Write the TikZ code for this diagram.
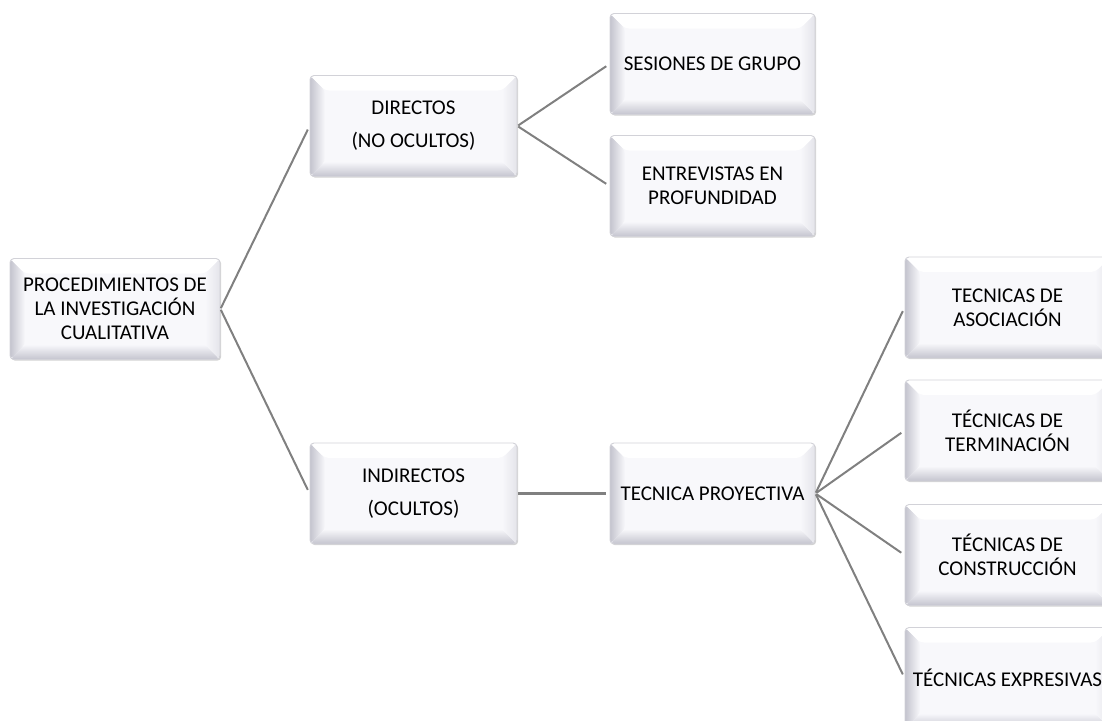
\documentclass[tikz,border=0pt]{standalone}
\usepackage{fontspec}
\setmainfont{Carlito}
\usetikzlibrary{calc,shadows}

\definecolor{boxface}{HTML}{F8F8FB}
\definecolor{boxedge}{HTML}{D2D2D8}
\definecolor{bevdark}{HTML}{C4C4CE}
\definecolor{bevlight}{HTML}{E4E4EA}
\definecolor{linkgray}{HTML}{808080}

\tikzset{
  bevbox/.style={
    draw=boxedge, line width=0.9pt, rounded corners=4pt, fill=boxface,
    minimum width=#1, minimum height=101pt, inner sep=0pt, align=center,
    font=\fontsize{21}{24}\selectfont,
    drop shadow={shadow xshift=1.2pt, shadow yshift=-1.2pt, opacity=0.35, fill=gray},
    path picture={
      \path (path picture bounding box.north west) coordinate (pnw)
            (path picture bounding box.north east) coordinate (pne)
            (path picture bounding box.south west) coordinate (psw)
            (path picture bounding box.south east) coordinate (pse);
      % left bevel
      \shade[left color=bevdark, right color=boxface]
        (pnw) -- ($(pnw)+(15pt,-15pt)$) -- ($(psw)+(15pt,15pt)$) -- (psw) -- cycle;
      % bottom bevel
      \shade[bottom color=bevdark, top color=boxface]
        (psw) -- ($(psw)+(15pt,15pt)$) -- ($(pse)+(-15pt,15pt)$) -- (pse) -- cycle;
      % right bevel
      \shade[right color=bevlight, left color=boxface]
        (pse) -- ($(pse)+(-15pt,15pt)$) -- ($(pne)+(-15pt,-15pt)$) -- (pne) -- cycle;
      % top bevel
      \fill[white]
        (pnw) -- ($(pnw)+(15pt,-15pt)$) -- ($(pne)+(-15pt,-15pt)$) -- (pne) -- cycle;
    }
  },
  bevbox/.default=205pt,
  link/.style={draw=linkgray, line width=2pt, shorten <=1pt, shorten >=4pt},
  thicklink/.style={link, line width=3pt}
}

\begin{document}
\begin{tikzpicture}[x=1pt, y=-1pt]
  \useasboundingbox (0,0) rectangle (1102,720);
  \clip (0,0) rectangle (1102,720);

  % first level
  \node[bevbox=210pt] (root) at (115,309)
    {PROCEDIMIENTOS DE\\LA INVESTIGACIÓN\\CUALITATIVA};

  % second level
  \node[bevbox=207pt] (dir) at (413.5,126) {DIRECTOS\\[9pt](NO OCULTOS)};
  \node[bevbox=207pt] (ind) at (413.5,493.5) {INDIRECTOS\\[9pt](OCULTOS)};

  % third level
  \node[bevbox] (ses) at (712.5,64) {SESIONES DE GRUPO};
  \node[bevbox] (ent) at (712.5,186) {ENTREVISTAS EN\\PROFUNDIDAD};
  \node[bevbox] (tp)  at (712.5,493.5) {TECNICA PROYECTIVA};

  % fourth level
  \node[bevbox] (aso) at (1007.5,307.5) {TECNICAS DE\\ASOCIACIÓN};
  \node[bevbox] (ter) at (1007.5,430.5) {TÉCNICAS DE\\TERMINACIÓN};
  \node[bevbox] (con) at (1007.5,555) {TÉCNICAS DE\\CONSTRUCCIÓN};
  \node[bevbox] (exp) at (1007.5,678) {TÉCNICAS EXPRESIVAS};

  % connectors
  \draw[link] (root.east) -- (dir.west);
  \draw[link] (root.east) -- (ind.west);
  \draw[link] (dir.east) -- (ses.west);
  \draw[link] (dir.east) -- (ent.west);
  \draw[thicklink] (ind.east) -- (tp.west);
  \draw[link] (tp.east) -- (aso.west);
  \draw[link] (tp.east) -- (ter.west);
  \draw[link] (tp.east) -- (con.west);
  \draw[link] (tp.east) -- (exp.west);
\end{tikzpicture}
\end{document}
